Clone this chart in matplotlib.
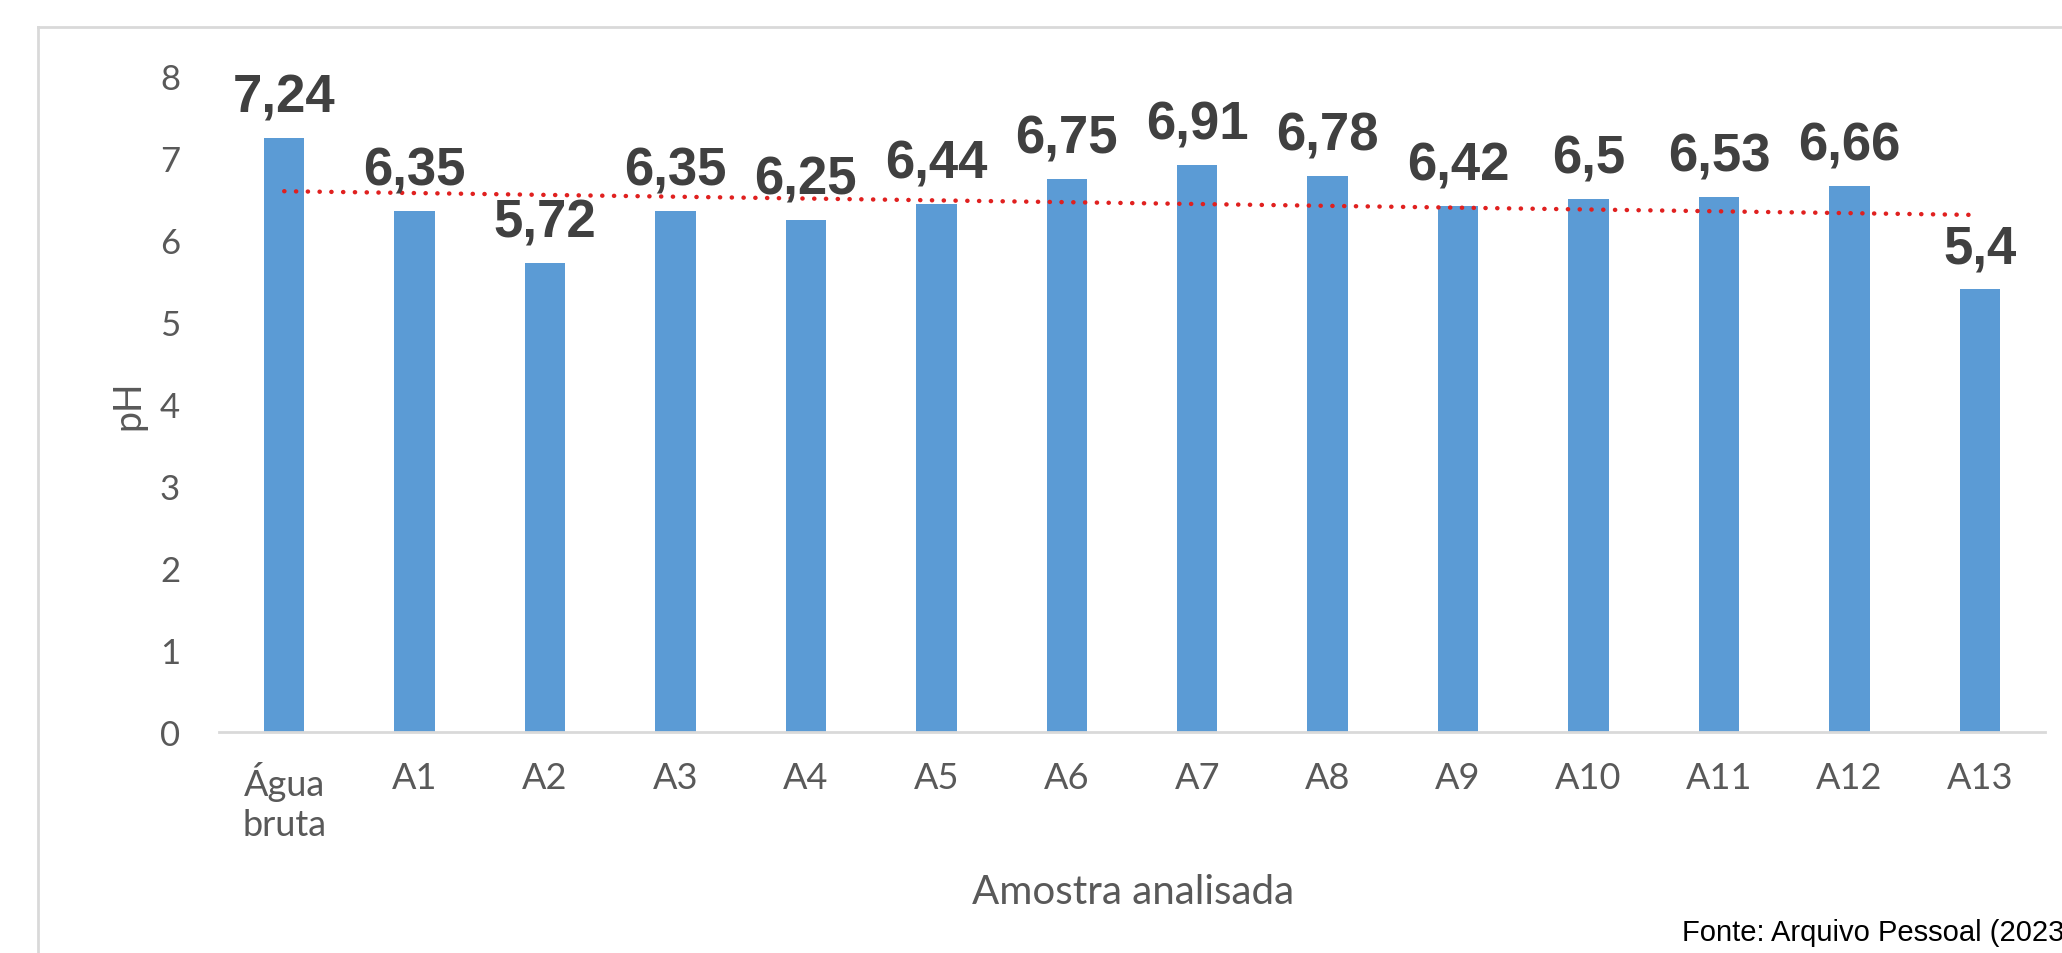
import numpy as np
import matplotlib
matplotlib.use("Agg")
import matplotlib.pyplot as plt
from matplotlib.lines import Line2D

categories = ["Água\nbruta", "A1", "A2", "A3", "A4", "A5", "A6", "A7", "A8", "A9",
              "A10", "A11", "A12", "A13"]
ph_values = [7.24, 6.35, 5.72, 6.35, 6.25, 6.44, 6.75, 6.91, 6.78, 6.42, 6.5, 6.53, 6.66, 5.4]
value_labels = ["7,24", "6,35", "5,72", "6,35", "6,25", "6,44", "6,75", "6,91", "6,78",
                "6,42", "6,5", "6,53", "6,66", "5,4"]
y_ticks = [0, 1, 2, 3, 4, 5, 6, 7, 8]

W, H = 2062, 954
fig = plt.figure(figsize=(W / 100, H / 100), dpi=100)
fig.patch.set_facecolor("white")

left, right = 219 / W, 2045 / W
bottom, top = 1 - 733 / H, 1 - 77 / H
ax = fig.add_axes([left, bottom, right - left, top - bottom])

x = np.arange(len(categories))
ax.bar(x, ph_values, width=0.31, color="#5b9bd5", zorder=2)

# linear trendline
coef = np.polyfit(x, ph_values, 1)
xt = np.array([x[0], x[-1]])
ax.plot(xt, np.polyval(coef, xt), color="#e0201f", lw=3.2,
        linestyle=(0, (0.05, 2.6)), dash_capstyle="round", zorder=3)

for xi, v, lab in zip(x, ph_values, value_labels):
    ax.annotate(lab, (xi, v), xytext=(0, 19), textcoords="offset points",
                ha="center", va="baseline", fontsize=38, fontweight="bold",
                color="#404040", family="Liberation Sans", zorder=4)

ax.set_xlim(-0.5, len(categories) - 0.5)
ax.set_ylim(0, 8)
ax.set_yticks(y_ticks)
ax.set_yticklabels([str(t) for t in y_ticks], family="Lato", fontsize=25, color="#595959")
ax.set_xticks(x)
ax.set_xticklabels(categories, family="Lato", fontsize=26, color="#595959",
                   linespacing=1.25)
ax.tick_params(axis="both", length=0)
ax.tick_params(axis="y", pad=28)
ax.tick_params(axis="x", pad=21)

for s in ["top", "right", "left"]:
    ax.spines[s].set_visible(False)
ax.spines["bottom"].set_color("#d9d9d9")
ax.spines["bottom"].set_linewidth(2)

ax.set_ylabel("pH", family="Lato", fontsize=27, color="#595959")
ax.yaxis.set_label_coords(-0.040, 0.5)
fig.text(1133 / W, 1 - 893 / H, "Amostra analisada", ha="center", va="center",
         family="Lato", fontsize=29, color="#595959")

fig.text(1682 / W, 1 - 933 / H, "Fonte: Arquivo Pessoal (2023)", ha="left", va="center",
         family="Liberation Sans", fontsize=21, color="black")

# outer chart border
fig.add_artist(Line2D([38 / W, 38 / W], [0, 1 - 28 / H], transform=fig.transFigure,
                      color="#d9d9d9", lw=2))
fig.add_artist(Line2D([38 / W, 1], [1 - 28 / H, 1 - 28 / H], transform=fig.transFigure,
                      color="#d9d9d9", lw=2))

fig.savefig("out.png", dpi=100)
